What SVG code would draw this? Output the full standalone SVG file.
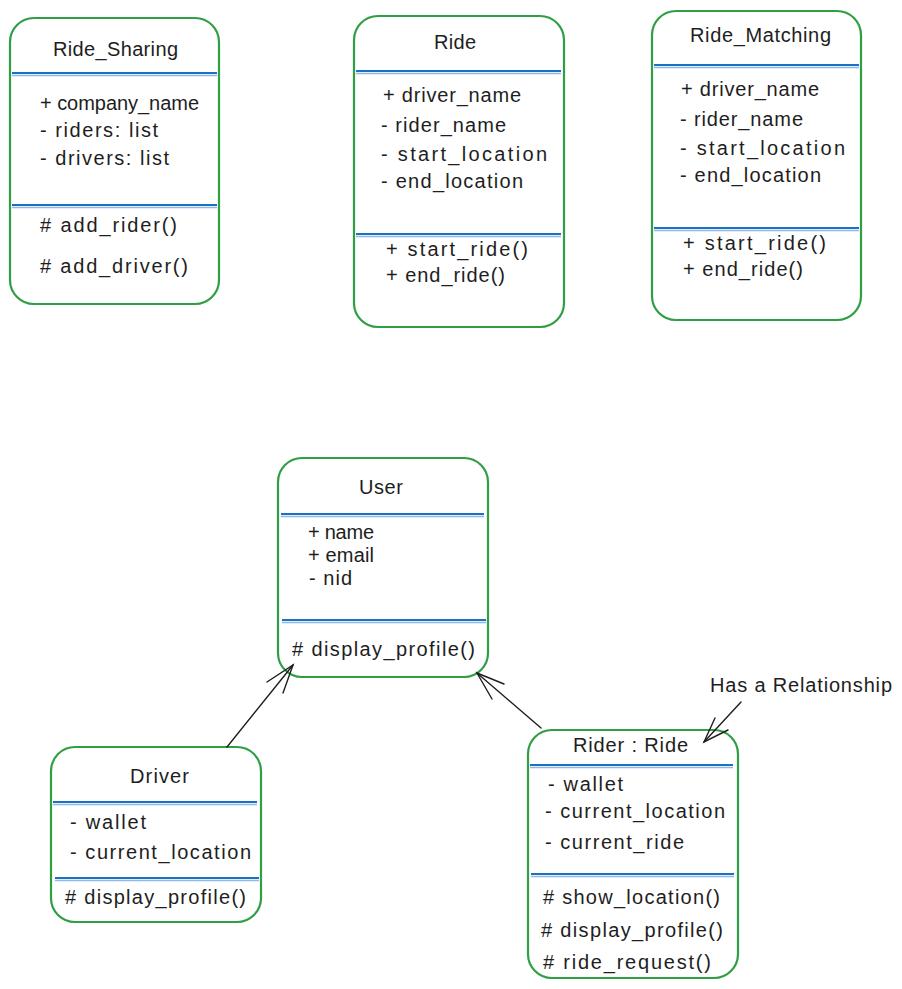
<svg xmlns="http://www.w3.org/2000/svg" width="902" height="989" viewBox="0 0 902 989">
  <style>
    .box { fill: #ffffff; stroke: #2f9e44; stroke-width: 2.2; }
    .sep { stroke: #1971c2; stroke-width: 2; }
    .sep2 { stroke: #8fb8e6; stroke-width: 1.5; }
    text { font-family: "Liberation Sans", "DejaVu Sans", sans-serif; font-size: 20px; fill: #1e1e1e; }
    .conn { stroke: #1e1e1e; stroke-width: 1.4; fill: none; stroke-linecap: round; }
  </style>
  <rect width="902" height="989" fill="#ffffff"/>

  <g id="ride-sharing">
    <rect class="box" x="10" y="18" width="209" height="286" rx="24"/>
    <text x="53" y="56" textLength="125">Ride_Sharing</text>
    <line class="sep" x1="12" y1="73" x2="217" y2="73"/>
    <line class="sep2" x1="12" y1="75.5" x2="217" y2="75.5"/>
    <text x="40" y="110" textLength="159">+ company_name</text>
    <text x="40" y="137" textLength="118">- riders: list</text>
    <text x="40" y="165" textLength="129">- drivers: list</text>
    <line class="sep" x1="12" y1="205" x2="217" y2="205"/>
    <line class="sep2" x1="12" y1="207.5" x2="217" y2="207.5"/>
    <text x="40" y="232" textLength="137"># add_rider()</text>
    <text x="40" y="273" textLength="148"># add_driver()</text>
  </g>

  <g id="ride">
    <rect class="box" x="354" y="16" width="210" height="311" rx="24"/>
    <text x="434" y="49" textLength="42">Ride</text>
    <line class="sep" x1="356" y1="71" x2="561" y2="71"/>
    <line class="sep2" x1="356" y1="73.5" x2="561" y2="73.5"/>
    <text x="383" y="102" textLength="138">+ driver_name</text>
    <text x="381" y="132" textLength="125">- rider_name</text>
    <text x="381" y="161" textLength="166">- start_location</text>
    <text x="381" y="188" textLength="142">- end_location</text>
    <line class="sep" x1="356" y1="234" x2="561" y2="234"/>
    <line class="sep2" x1="356" y1="236.5" x2="561" y2="236.5"/>
    <text x="386" y="256" textLength="142">+ start_ride()</text>
    <text x="386" y="282" textLength="119">+ end_ride()</text>
  </g>

  <g id="ride-matching">
    <rect class="box" x="652" y="11" width="209" height="309" rx="24"/>
    <text x="690" y="42" textLength="141">Ride_Matching</text>
    <line class="sep" x1="654" y1="65" x2="859" y2="65"/>
    <line class="sep2" x1="654" y1="67.5" x2="859" y2="67.5"/>
    <text x="681" y="96" textLength="138">+ driver_name</text>
    <text x="680" y="126" textLength="123">- rider_name</text>
    <text x="680" y="155" textLength="165">- start_location</text>
    <text x="680" y="182" textLength="141">- end_location</text>
    <line class="sep" x1="654" y1="228" x2="859" y2="228"/>
    <line class="sep2" x1="654" y1="230.5" x2="859" y2="230.5"/>
    <text x="683" y="250" textLength="143">+ start_ride()</text>
    <text x="683" y="276" textLength="120">+ end_ride()</text>
  </g>

  <g id="user">
    <rect class="box" x="278" y="458" width="210" height="219" rx="24"/>
    <text x="359" y="494" textLength="44">User</text>
    <line class="sep" x1="281" y1="514" x2="484" y2="514"/>
    <line class="sep2" x1="281" y1="516.5" x2="484" y2="516.5"/>
    <text x="308" y="539" textLength="66">+ name</text>
    <text x="308" y="562" textLength="66">+ email</text>
    <text x="309" y="585" textLength="43">- nid</text>
    <line class="sep" x1="282" y1="620" x2="486" y2="620"/>
    <line class="sep2" x1="282" y1="622.5" x2="486" y2="622.5"/>
    <text x="292" y="656" textLength="183"># display_profile()</text>
  </g>

  <g id="driver">
    <rect class="box" x="51" y="747" width="210" height="175" rx="24"/>
    <text x="130" y="783" textLength="59">Driver</text>
    <line class="sep" x1="53" y1="802" x2="257" y2="802"/>
    <line class="sep2" x1="53" y1="804.5" x2="257" y2="804.5"/>
    <text x="70" y="829" textLength="76">- wallet</text>
    <text x="70" y="859" textLength="181">- current_location</text>
    <line class="sep" x1="55" y1="878" x2="259" y2="878"/>
    <line class="sep2" x1="55" y1="880.5" x2="259" y2="880.5"/>
    <text x="65" y="904" textLength="181"># display_profile()</text>
  </g>

  <g id="rider">
    <rect class="box" x="528" y="730" width="210" height="248" rx="24"/>
    <text x="573" y="752" textLength="115">Rider : Ride</text>
    <line class="sep" x1="530" y1="765" x2="733" y2="765"/>
    <line class="sep2" x1="530" y1="767.5" x2="733" y2="767.5"/>
    <text x="548" y="791" textLength="75">- wallet</text>
    <text x="545" y="818" textLength="180">- current_location</text>
    <text x="545" y="849" textLength="139">- current_ride</text>
    <line class="sep" x1="531" y1="874" x2="734" y2="874"/>
    <line class="sep2" x1="531" y1="876.5" x2="734" y2="876.5"/>
    <text x="543" y="904" textLength="177"># show_location()</text>
    <text x="541" y="937" textLength="182"># display_profile()</text>
    <text x="543" y="969" textLength="168"># ride_request()</text>
  </g>

  <g id="note">
    <text x="710" y="692" textLength="182">Has a Relationship</text>
  </g>

  <g id="connectors">
    <!-- Driver inherits User -->
    <path class="conn" d="M227 747 L293 665"/>
    <path class="conn" d="M267 682 L293 665 L283 693"/>
    <!-- Rider inherits User -->
    <path class="conn" d="M541 728 L477 673"/>
    <path class="conn" d="M504 684 L477 673 L492 699"/>
    <!-- note pointer -->
    <path class="conn" d="M741 702 L704 742"/>
    <path class="conn" d="M715 718 L704 742 L728 730"/>
  </g>
</svg>
